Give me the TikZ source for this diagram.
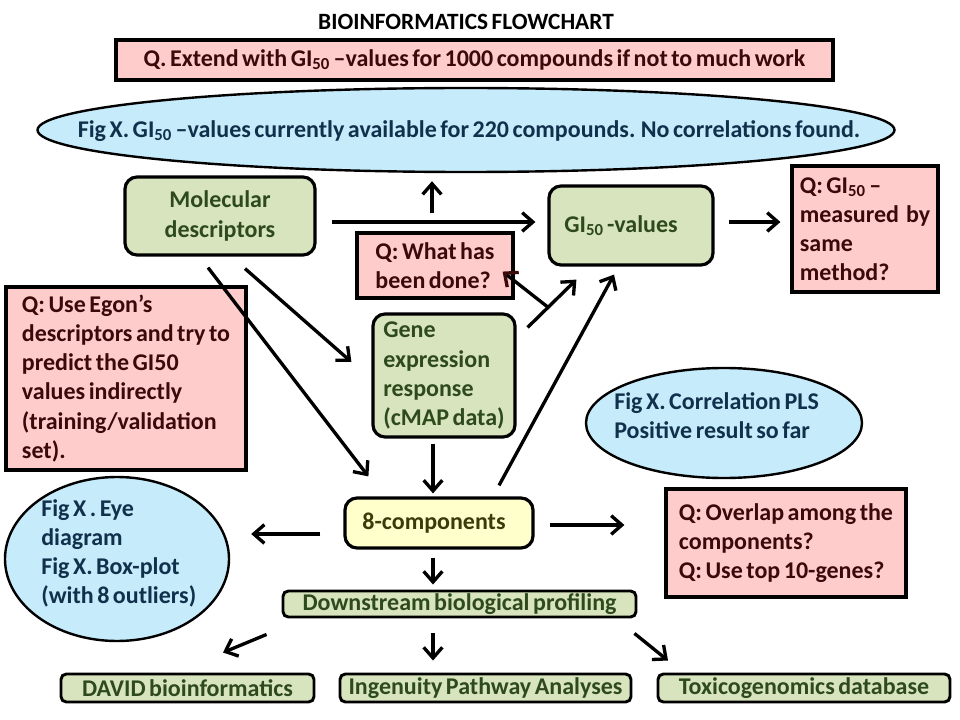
\documentclass[tikz,border=0pt]{standalone}
\usepackage{fontspec}
\setmainfont{Carlito}[WordSpace=0.65]
\usetikzlibrary{shapes.geometric,arrows.meta}
\newdimen\pxu \pxu=0.75pt
\definecolor{qfill}{HTML}{FFCCCC}
\definecolor{qtext}{HTML}{3A0A0A}
\definecolor{gfill}{HTML}{D7E4BD}
\definecolor{gtext}{HTML}{2E4A1C}
\definecolor{bfill}{HTML}{C6EBFA}
\definecolor{btext}{HTML}{10304C}
\definecolor{yfill}{HTML}{FFFFCC}
\definecolor{ytext}{HTML}{3A3A0A}
\newcommand{\gifty}{GI\textsubscript{50}}
\tikzset{
  txt/.style={inner sep=0pt, font=\fontsize{18}{21.8}\selectfont\bfseries},
  base/.style={txt, line width=2.4pt, draw=black},
  qbox/.style={base, rectangle, fill=qfill, text=qtext, align=left},
  gbox/.style={base, rectangle, rounded corners=9pt, fill=gfill, text=gtext},
  sbox/.style={base, rectangle, rounded corners=4pt, fill=gfill, text=gtext,
    line width=2.2pt},
  ybox/.style={base, rectangle, rounded corners=9pt, fill=yfill, text=ytext},
  fig/.style={ellipse, line width=1.8pt, draw=black, fill=bfill, inner sep=0pt},
  figtext/.style={txt, text=btext, align=left},
  tip/.style={-{Straight Barb[length=8pt,width=14pt,line width=2.5pt,#1]}},
  tip/.default={},
  arr/.style={line width=2.5pt, tip},
}
\begin{document}
\begin{tikzpicture}[x=0.75pt,y=-0.75pt]
\useasboundingbox[fill=white] (0,0) rectangle (960,720);

% title
\node[txt, font=\fontsize{17.5}{20}\selectfont\bfseries] (title) at (466,22) {BIOINFORMATICS FLOWCHART};

% top row
\node[qbox, align=center, minimum width=717\pxu, minimum height=40\pxu] (qext) at (474.5,60)
  {Q. Extend with \gifty{} --values for 1000 compounds if not to much work};
\node[fig, minimum width=857\pxu, minimum height=84\pxu] (figall) at (466,130) {};
\node[figtext] (figallt) at (469,131)
  {Fig X. \gifty{} --values currently available for 220 compounds. No correlations found.};

% second row
\node[gbox, align=center, minimum width=190\pxu, minimum height=78\pxu] (md) at (220,216)
  {Molecular\\descriptors};
\node[qbox, minimum width=156\pxu, minimum height=65\pxu] (qwhat) at (435,265.5)
  {Q: What has\\been done?};
\node[gbox, minimum width=164\pxu, minimum height=79\pxu] (gi) at (631,225.5)
  {\gifty{} -values\hspace*{20\pxu}};
\node[qbox, minimum width=146\pxu, minimum height=126\pxu] (qmeth) at (865,229)
  {Q: \gifty{} --\\measured\ \ by\\same\\method?};

% middle
\node[qbox, minimum width=240\pxu, minimum height=183\pxu] (qegon) at (126,378.5)
  {Q: Use Egon’s\\descriptors and try to\\predict the GI50\\values indirectly\\(training/validation\\set).};
\node[gbox, align=left, minimum width=142\pxu, minimum height=123\pxu] (ge) at (444,375.5)
  {Gene\\expression\\response\\(cMAP data)};
\node[fig, minimum width=276\pxu, minimum height=110\pxu] (pls) at (724,423) {};
\node[figtext, anchor=west] (plst) at (614,416)
  {Fig X. Correlation PLS\\Positive result so far};

% lower row
\node[ybox, minimum width=188\pxu, minimum height=50\pxu] (comp) at (439,523)
  {8-components\hspace*{10\pxu}};
\node[fig, minimum width=224\pxu, minimum height=164\pxu] (eye) at (117,559) {};
\node[figtext, anchor=west] (eyet) at (41,553)
  {Fig X . Eye\\diagram\\Fig X. Box-plot\\(with 8 outliers)};
\node[qbox, minimum width=240\pxu, minimum height=108\pxu] (qover) at (786,543)
  {Q: Overlap among the\\components?\\Q: Use top 10-genes?};

% profiling
\node[sbox, minimum width=353\pxu, minimum height=26\pxu] (down) at (459.5,604)
  {Downstream biological profiling};
\node[sbox, minimum width=253\pxu, minimum height=28\pxu] (david) at (187.5,688)
  {DAVID bioinformatics};
\node[sbox, minimum width=291\pxu, minimum height=28\pxu] (ing) at (485.5,688)
  {Ingenuity Pathway Analyses};
\node[sbox, minimum width=292\pxu, minimum height=28\pxu] (tox) at (804,688)
  {Toxicogenomics database};

% connectors
\draw[arr] ([shift={(15,6)}]md.east) -- ([shift={(-12,-3.5)}]gi.west);
\draw[arr] ([shift={(-3,-18)}]qwhat.north) -- ([shift={(-34,8)}]figall.south);
\draw[arr] ([shift={(25,12)}]md.south) -- ([shift={(-20,-13.5)}]ge.west);
\draw[arr] ([shift={(-12,11)}]md.south) -- ([shift={(25,-20)}]comp.north west);
\draw[arr] ([shift={(11,15)}]ge.north east) -- coordinate[pos=0.42] (gbr) ([shift={(29,13)}]gi.south west);
\draw[line width=2.5pt, tip={color=qtext}] (gbr) -- ([shift={(-12,-28)}]qwhat.south east);
\draw[arr] ([shift={(60,-11)}]comp.north) -- ([shift={(-17,8)}]gi.south);
\draw[arr] ([shift={(-11,5)}]ge.south) -- ([shift={(-6,-3)}]comp.north);
\draw[arr] ([shift={(14,-3.5)}]gi.east) -- ([shift={(-10,-7)}]qmeth.west);
\draw[arr] ([shift={(-23,11)}]comp.west) -- ([shift={(21,-25)}]eye.east);
\draw[arr] ([shift={(15,2)}]comp.east) -- ([shift={(-40,-18)}]qover.west);
\draw[arr] ([shift={(-6,8)}]comp.south) -- ([shift={(-26.5,-5)}]down.north);
\draw[arr] ([shift={(-15,16)}]down.south west) -- ([shift={(35.5,-20)}]david.north);
\draw[arr] ([shift={(-26.5,15)}]down.south) -- ([shift={(-52.5,-12)}]ing.north);
\draw[arr] ([shift={(-3,15)}]down.south east) -- ([shift={(-136,-12)}]tox.north);
\end{tikzpicture}
\end{document}
